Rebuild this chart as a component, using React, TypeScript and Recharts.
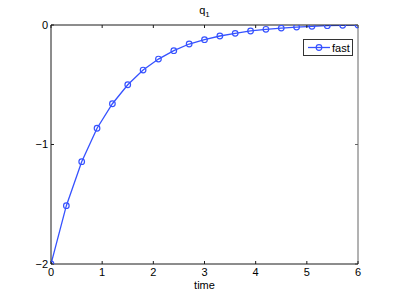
import React from 'react';
import { LineChart, Line, XAxis, YAxis, Legend, Label } from 'recharts';

const times = [0, 0.3, 0.6, 0.9, 1.2, 1.5, 1.8, 2.1, 2.4, 2.7, 3.0, 3.3, 3.6, 3.9, 4.2, 4.5, 4.8, 5.1, 5.4, 5.7, 6.0];
const fastValues = [-2, -1.512, -1.144, -0.864, -0.659, -0.5, -0.377, -0.285, -0.215, -0.159, -0.123, -0.092, -0.07, -0.05, -0.036, -0.026, -0.017, -0.011, -0.006, -0.003, 0];
const xTicks = [0, 1, 2, 3, 4, 5, 6];
const yTicks = [-2, -1, 0];
const seriesName = 'fast';
const titleMain = 'q';
const titleSub = '1';
const xLabel = 'time';

const data = times.map((t, i) => ({ time: t, fast: fastValues[i] }));

const FONT = '"Liberation Sans", Arial, Helvetica, sans-serif';
const BLUE = '#3652ff';
const AXIS = '#1a1a1a';

const fmt = (v: number) => (v < 0 ? '\u2212' + Math.abs(v) : String(v));
const NoTick = () => <g />;

const LegendBox = () => (
  <div
    style={{
      border: '1px solid #333',
      background: '#fff',
      width: 50,
      height: 17,
      boxSizing: 'border-box',
      display: 'flex',
      alignItems: 'center',
      fontFamily: FONT,
      fontSize: 11,
      color: '#000',
    }}
  >
    <svg width={27} height={15} style={{ display: 'block' }}>
      <line x1={4} x2={26} y1={7.5} y2={7.5} stroke={BLUE} strokeWidth={1.3} />
      <circle cx={15} cy={7.5} r={2.8} fill="none" stroke={BLUE} strokeWidth={1.2} />
    </svg>
    <span style={{ marginLeft: 1 }}>{seriesName}</span>
  </div>
);

const TitleLabel = (props: any) => {
  const vb = props.viewBox || {};
  const cx = vb.x + vb.width / 2;
  return (
    <text x={cx} y={vb.y + 9} textAnchor="middle" fontFamily={FONT} fontSize={11} fill="#000">
      <tspan>{titleMain}</tspan>
      <tspan fontSize={8} dy={3}>{titleSub}</tspan>
    </text>
  );
};

export default function App() {
  return (
    <div style={{ position: 'absolute', left: 0, top: 0, width: 396, height: 297, background: '#fff' }}>
      <LineChart
        width={396}
        height={297}
        data={data}
        margin={{ top: 5, right: 28, bottom: 3, left: 11 }}
      >
        <XAxis
          xAxisId="top"
          orientation="top"
          dataKey="time"
          type="number"
          domain={[0, 6]}
          ticks={xTicks}
          height={20}
          stroke={AXIS}
          tickSize={-3}
          tick={NoTick}
          allowDataOverflow
        >
          <Label content={TitleLabel} />
        </XAxis>
        <YAxis
          yAxisId="right"
          orientation="right"
          type="number"
          domain={[-2, 0]}
          ticks={yTicks}
          width={10}
          stroke="#666"
          tickSize={-3}
          tick={NoTick}
          allowDataOverflow
        />
        <XAxis
          dataKey="time"
          type="number"
          domain={[0, 6]}
          ticks={xTicks}
          height={30}
          stroke={AXIS}
          tickSize={-3}
          tickMargin={7}
          tick={{ fontSize: 11, fontFamily: FONT, fill: '#000' }}
          tickFormatter={fmt}
          allowDataOverflow
        >
          <Label
            value={xLabel}
            position="bottom"
            offset={-13}
            style={{ fontSize: 11, fontFamily: FONT, fill: '#000' }}
          />
        </XAxis>
        <YAxis
          type="number"
          domain={[-2, 0]}
          ticks={yTicks}
          width={40}
          stroke={AXIS}
          tickSize={-3}
          tickMargin={6}
          tick={{ fontSize: 11, fontFamily: FONT, fill: '#000' }}
          tickFormatter={fmt}
          allowDataOverflow
        />
        <Legend
          layout="horizontal"
          verticalAlign="middle"
          align="center"
          content={LegendBox}
          wrapperStyle={{ left: 303, top: 39, width: 50, height: 17 }}
        />
        <Line
          dataKey="fast"
          name={seriesName}
          stroke={BLUE}
          strokeWidth={1.3}
          dot={{ r: 2.8, stroke: BLUE, strokeWidth: 1.2, fill: 'none' }}
          activeDot={false}
          isAnimationActive={false}
        />
      </LineChart>
    </div>
  );
}
